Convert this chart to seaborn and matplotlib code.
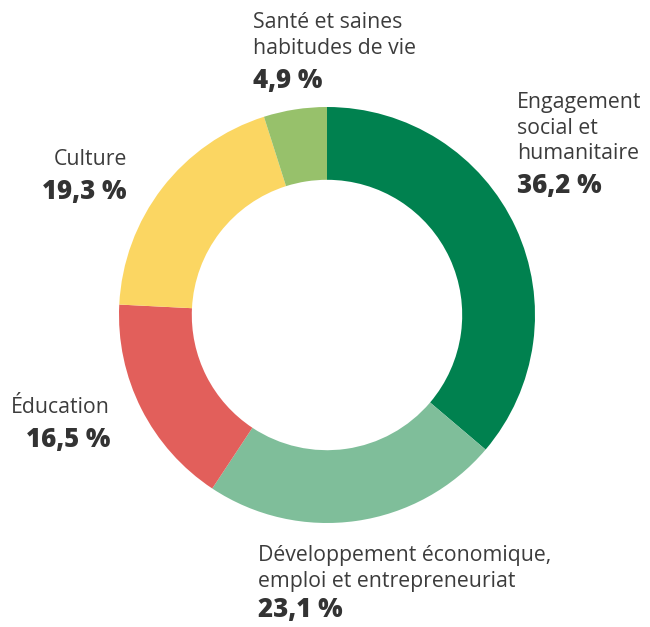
import matplotlib
matplotlib.use("Agg")
import matplotlib.pyplot as plt
import seaborn as sns

# Répartition des dons par secteur
categories = [
    ["Engagement", "social et", "humanitaire"],
    ["Développement économique,", "emploi et entrepreneuriat"],
    ["Éducation"],
    ["Culture"],
    ["Santé et saines", "habitudes de vie"],
]
shares = [36.2, 23.1, 16.5, 19.3, 4.9]
pct_labels = ["36,2 %", "23,1 %", "16,5 %", "19,3 %", "4,9 %"]
colors = ["#00814F", "#7FBE9A", "#E25F5B", "#FBD662", "#97C16B"]

sns.set_style("white")
plt.rcParams["font.family"] = ["Open Sans", "DejaVu Sans"]

W, H = 650, 627
fig = plt.figure(figsize=(W / 100, H / 100), dpi=100)
fig.patch.set_facecolor("white")

# donut center and radius in pixels
cx, cy, r = 327, 315, 208
ax = fig.add_axes([(cx - r) / W, (H - cy - r) / H, 2 * r / W, 2 * r / H])
ax.pie(shares, colors=colors, startangle=90, counterclock=False,
       radius=1.0, wedgeprops=dict(width=0.35, edgecolor="none"))
ax.set_xlim(-1, 1)
ax.set_ylim(-1, 1)
ax.set_aspect("equal")
ax.axis("off")

text_col = "#3c3c3c"
# label anchors in pixels: x, baseline of first line, alignment
anchors = [
    (517, 108, "left"),
    (258, 561, "left"),
    (110, 413, "right"),
    (127, 165, "right"),
    (253, 28, "left"),
]
line_h = 25.5
pct_gap = 34
for lines, pct, (x, y, ha) in zip(categories, pct_labels, anchors):
    for i, line in enumerate(lines):
        fig.text(x / W, 1 - (y + i * line_h) / H, line, ha=ha, va="baseline",
                 fontsize=15.3, color=text_col, fontweight="normal")
    last = y + (len(lines) - 1) * line_h
    fig.text(x / W, 1 - min(last + pct_gap, 617) / H, pct, ha=ha,
             va="baseline", fontsize=18.5, color="#333333",
             fontweight="heavy")

fig.savefig("out.png", dpi=100, facecolor="white")
